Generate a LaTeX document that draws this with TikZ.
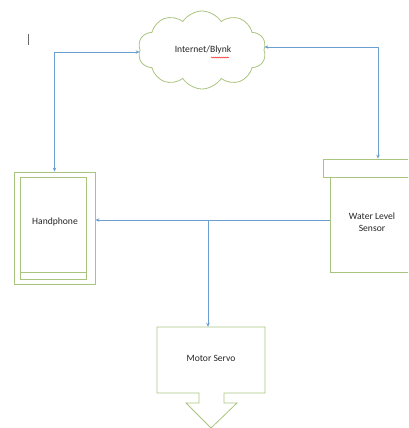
\documentclass[tikz,border=0pt]{standalone}
\usepackage{fontspec}
\setmainfont{Carlito}
\usetikzlibrary{shapes.symbols,arrows.meta,decorations.pathmorphing}
\definecolor{shapegreen}{HTML}{A9C47F}
\definecolor{linkblue}{HTML}{6A9FD0}
\definecolor{txt}{HTML}{262626}
\begin{document}
\begin{tikzpicture}[x=1pt,y=-1pt,
  box/.style={draw=shapegreen,line width=0.8pt,fill=white,inner sep=0pt},
  link/.style={draw=linkblue,line width=0.8pt},
  tip/.style={-{Stealth[length=4pt,width=3.5pt]}},
  dtip/.style={{Stealth[length=4pt,width=3.5pt]}-{Stealth[length=4pt,width=3.5pt]}},
  lbl/.style={font=\fontsize{9.6}{11.5}\selectfont,text=txt,align=center}]
\useasboundingbox (0,0) rectangle (408,428);
\clip (0,0) rectangle (408,428);
% cursor mark
\draw[gray!80!black,line width=0.7pt] (28,34) -- (28,45);
% cloud
\node[cloud,cloud puffs=10,cloud puff arc=115,aspect=1.65,draw=shapegreen,line width=0.8pt,
  minimum width=128pt,minimum height=78pt] (cloud) at (202,50) {};
\node[lbl] (cloudtxt) at (203,50) {Internet/Blynk};
\draw[red,line width=0.5pt,decorate,decoration={snake,amplitude=0.5pt,segment length=2pt}]
  (211,57.5) -- (229,57.5);
% handphone
\node[box,minimum width=81pt,minimum height=112pt] (hp) at (54.5,228) {};
\node[draw=shapegreen,line width=0.8pt,inner sep=0pt,minimum width=66pt,minimum height=102pt] (hpin) at (53,228) {};
\draw[shapegreen,line width=0.8pt] (hpin.west |- 0,272) -- (hpin.east |- 0,272);
\node[lbl] (hptxt) at (55,222) {Handphone};
% sensor
\node[box,minimum width=110pt,minimum height=18pt] (stop) at (378,168) {};
\node[box,minimum width=96pt,minimum height=95pt] (sensor) at (378,224.5) {};
\node[lbl] (stxt) at (372,222) {Water Level\\Sensor};
% motor servo
\node[inner sep=0pt,minimum width=108pt,minimum height=66pt] (motor) at (211,360) {};
\draw[shapegreen,line width=0.8pt] (157,327) -- (265,327) -- (265,393) -- (224,393) -- (224,403)
  -- (237,403) -- (211,428) -- (186,403) -- (199,403) -- (199,393) -- (157,393) -- cycle;
\node[lbl] (mtxt) at (211,358) {Motor Servo};
% connectors
\coordinate (j) at (208,220);
\draw[link,dtip] ([yshift=-2pt]cloud.west) -| (hp.north);
\draw[link,dtip] ([yshift=3pt]cloud.east) -| (stop.north);
\draw[link,tip] (sensor.west |- j) -- (hp.east |- j);
\draw[link,tip] (j) -- (j |- motor.north);
\end{tikzpicture}
\end{document}
